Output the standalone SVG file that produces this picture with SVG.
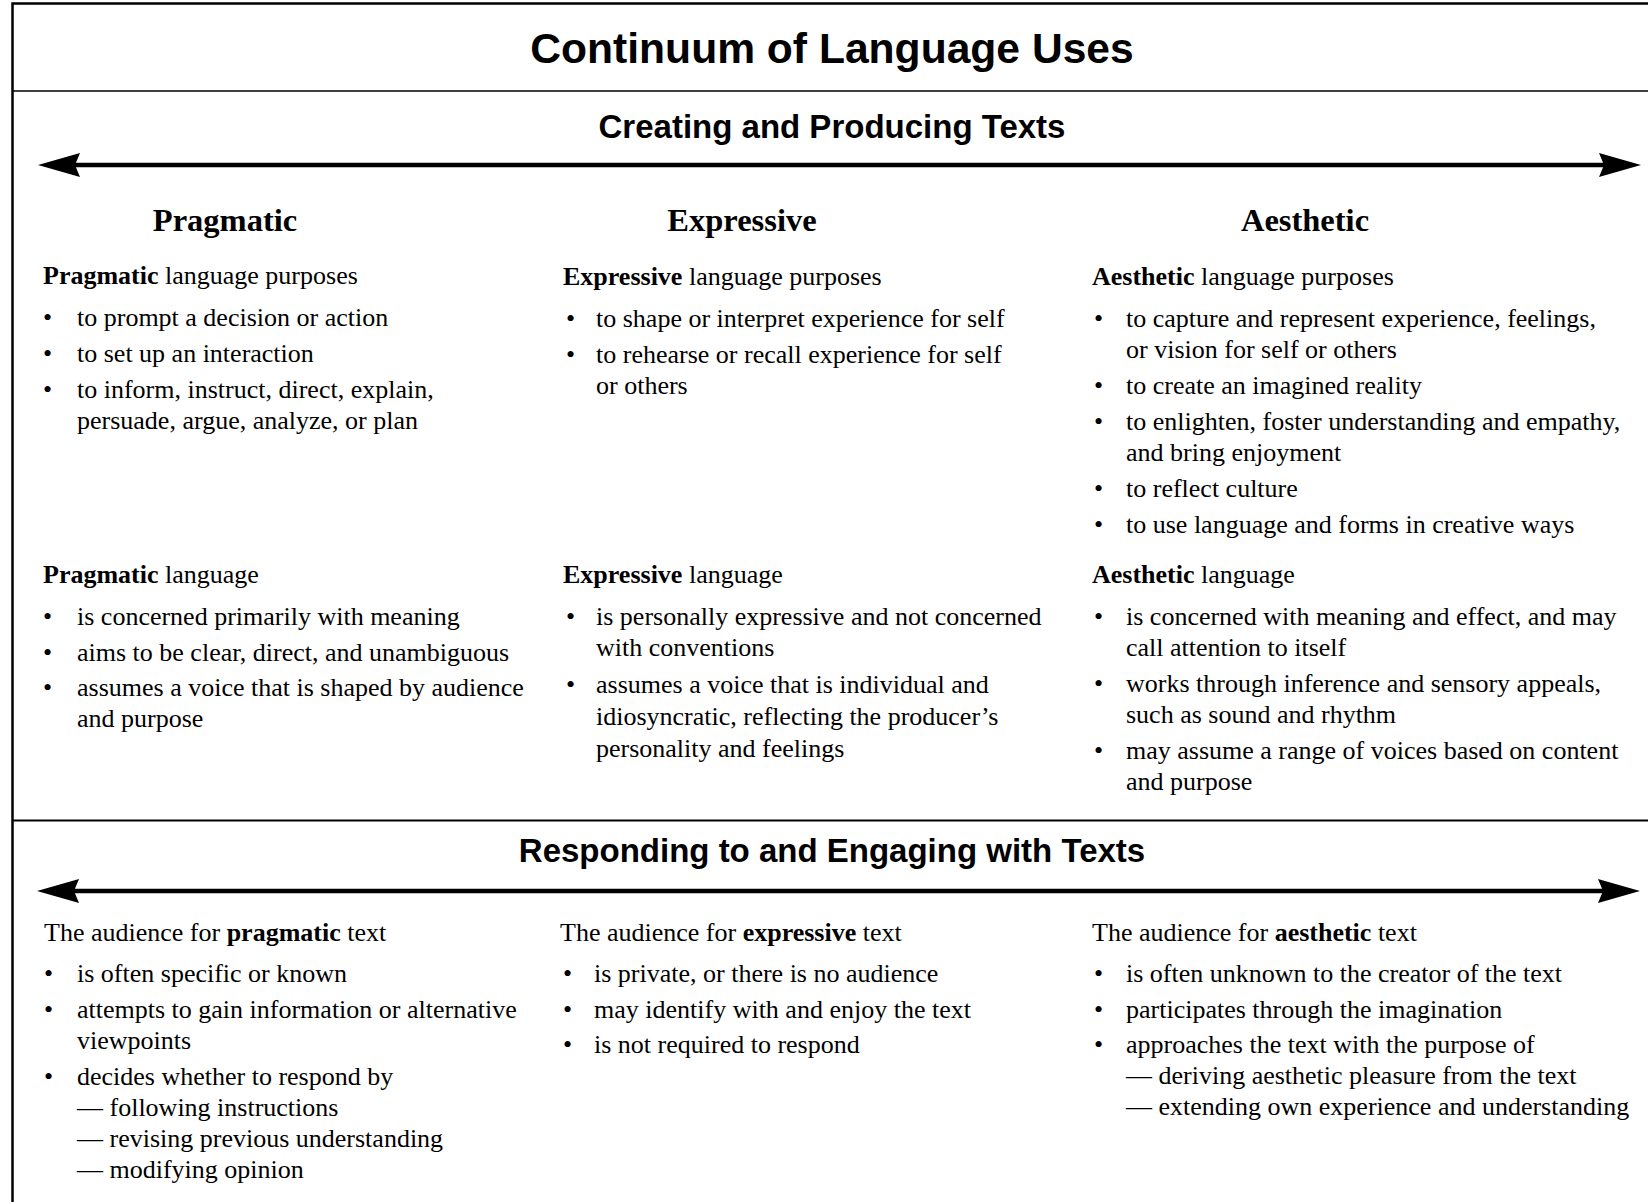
<svg xmlns="http://www.w3.org/2000/svg" width="1648" height="1202" viewBox="0 0 1648 1202">
  <style>
    .frame { fill: none; stroke: #000; }
    .title { font-family: "Liberation Sans", Arial, sans-serif; font-weight: bold; fill: #000; text-anchor: middle; }
    .colhead { font-family: "Liberation Serif", "Times New Roman", serif; font-weight: bold; font-size: 32.5px; fill: #000; text-anchor: middle; }
    .body { font-family: "Liberation Serif", "Times New Roman", serif; font-size: 26px; fill: #000; }
    .b { font-weight: bold; }
    .axis { stroke: #000; stroke-width: 4.5; fill: none; }
  </style>
  <defs>
    <marker id="head" viewBox="0 0 42 24" refX="5" refY="12" markerWidth="42" markerHeight="24" markerUnits="userSpaceOnUse" orient="auto-start-reverse">
      <path d="M0,0 L42,12 L0,24 L5,12 Z" fill="#000"/>
    </marker>
  </defs>

  <rect width="1648" height="1202" fill="#fff"/>

  <!-- outer frame and section rules -->
  <g id="frame">
    <path class="frame" d="M12.5,1202 V3.5 H1648" stroke-width="2.5"/>
    <line class="frame" x1="12.5" y1="91" x2="1648" y2="91" stroke-width="1.6"/>
    <line class="frame" x1="12.5" y1="820.5" x2="1648" y2="820.5" stroke-width="2"/>
  </g>

  <!-- headings -->
  <g id="title">
    <text class="title" x="832" y="63" font-size="42.6">Continuum of Language Uses</text>
  </g>
  <g id="section-creating">
    <text class="title" x="832" y="138" font-size="33">Creating and Producing Texts</text>
  </g>
  <g id="section-responding">
    <text class="title" x="832" y="862" font-size="33">Responding to and Engaging with Texts</text>
  </g>

  <!-- continuum arrows -->
  <g id="connectors">
    <line class="axis" x1="75" y1="165" x2="1604" y2="165" marker-start="url(#head)" marker-end="url(#head)"/>
    <line class="axis" x1="74" y1="891" x2="1603" y2="891" marker-start="url(#head)" marker-end="url(#head)"/>
  </g>

  <!-- column headings -->
  <g id="head-pragmatic"><text class="colhead" x="225" y="231">Pragmatic</text></g>
  <g id="head-expressive"><text class="colhead" x="742" y="231">Expressive</text></g>
  <g id="head-aesthetic"><text class="colhead" x="1305" y="231">Aesthetic</text></g>

  <!-- Pragmatic: purposes -->
  <g id="pragmatic-purposes" class="body">
    <text x="43" y="284"><tspan class="b">Pragmatic</tspan> language purposes</text>
    <text x="43" y="326">•</text><text x="77" y="326">to prompt a decision or action</text>
    <text x="43" y="362">•</text><text x="77" y="362">to set up an interaction</text>
    <text x="43" y="398">•</text><text x="77" y="398">to inform, instruct, direct, explain,</text>
    <text x="77" y="429">persuade, argue, analyze, or plan</text>
  </g>

  <!-- Pragmatic: language -->
  <g id="pragmatic-language" class="body">
    <text x="43" y="583"><tspan class="b">Pragmatic</tspan> language</text>
    <text x="43" y="625">•</text><text x="77" y="625">is concerned primarily with meaning</text>
    <text x="43" y="661">•</text><text x="77" y="661">aims to be clear, direct, and unambiguous</text>
    <text x="43" y="696">•</text><text x="77" y="696">assumes a voice that is shaped by audience</text>
    <text x="77" y="727">and purpose</text>
  </g>

  <!-- Expressive: purposes -->
  <g id="expressive-purposes" class="body">
    <text x="563" y="285"><tspan class="b">Expressive</tspan> language purposes</text>
    <text x="566" y="327">•</text><text x="596" y="327">to shape or interpret experience for self</text>
    <text x="566" y="363">•</text><text x="596" y="363">to rehearse or recall experience for self</text>
    <text x="596" y="394">or others</text>
  </g>

  <!-- Expressive: language -->
  <g id="expressive-language" class="body">
    <text x="563" y="583"><tspan class="b">Expressive</tspan> language</text>
    <text x="566" y="625">•</text><text x="596" y="625">is personally expressive and not concerned</text>
    <text x="596" y="656">with conventions</text>
    <text x="566" y="693">•</text><text x="596" y="693">assumes a voice that is individual and</text>
    <text x="596" y="725">idiosyncratic, reflecting the producer’s</text>
    <text x="596" y="757">personality and feelings</text>
  </g>

  <!-- Aesthetic: purposes -->
  <g id="aesthetic-purposes" class="body">
    <text x="1092" y="285"><tspan class="b">Aesthetic</tspan> language purposes</text>
    <text x="1094" y="327">•</text><text x="1126" y="327">to capture and represent experience, feelings,</text>
    <text x="1126" y="358">or vision for self or others</text>
    <text x="1094" y="394">•</text><text x="1126" y="394">to create an imagined reality</text>
    <text x="1094" y="430">•</text><text x="1126" y="430">to enlighten, foster understanding and empathy,</text>
    <text x="1126" y="461">and bring enjoyment</text>
    <text x="1094" y="497">•</text><text x="1126" y="497">to reflect culture</text>
    <text x="1094" y="533">•</text><text x="1126" y="533">to use language and forms in creative ways</text>
  </g>

  <!-- Aesthetic: language -->
  <g id="aesthetic-language" class="body">
    <text x="1092" y="583"><tspan class="b">Aesthetic</tspan> language</text>
    <text x="1094" y="625">•</text><text x="1126" y="625">is concerned with meaning and effect, and may</text>
    <text x="1126" y="656">call attention to itself</text>
    <text x="1094" y="692">•</text><text x="1126" y="692">works through inference and sensory appeals,</text>
    <text x="1126" y="723">such as sound and rhythm</text>
    <text x="1094" y="759">•</text><text x="1126" y="759">may assume a range of voices based on content</text>
    <text x="1126" y="790">and purpose</text>
  </g>

  <!-- Audience: pragmatic -->
  <g id="audience-pragmatic" class="body">
    <text x="44" y="941">The audience for <tspan class="b">pragmatic</tspan> text</text>
    <text x="44" y="982">•</text><text x="77" y="982">is often specific or known</text>
    <text x="44" y="1018">•</text><text x="77" y="1018">attempts to gain information or alternative</text>
    <text x="77" y="1049">viewpoints</text>
    <text x="44" y="1085">•</text><text x="77" y="1085">decides whether to respond by</text>
    <text x="77" y="1116">— following instructions</text>
    <text x="77" y="1147">— revising previous understanding</text>
    <text x="77" y="1178">— modifying opinion</text>
  </g>

  <!-- Audience: expressive -->
  <g id="audience-expressive" class="body">
    <text x="560" y="941">The audience for <tspan class="b">expressive</tspan> text</text>
    <text x="563" y="982">•</text><text x="594" y="982">is private, or there is no audience</text>
    <text x="563" y="1018">•</text><text x="594" y="1018">may identify with and enjoy the text</text>
    <text x="563" y="1053">•</text><text x="594" y="1053">is not required to respond</text>
  </g>

  <!-- Audience: aesthetic -->
  <g id="audience-aesthetic" class="body">
    <text x="1092" y="941">The audience for <tspan class="b">aesthetic</tspan> text</text>
    <text x="1094" y="982">•</text><text x="1126" y="982">is often unknown to the creator of the text</text>
    <text x="1094" y="1018">•</text><text x="1126" y="1018">participates through the imagination</text>
    <text x="1094" y="1053">•</text><text x="1126" y="1053">approaches the text with the purpose of</text>
    <text x="1126" y="1084">— deriving aesthetic pleasure from the text</text>
    <text x="1126" y="1115">— extending own experience and understanding</text>
  </g>
</svg>
